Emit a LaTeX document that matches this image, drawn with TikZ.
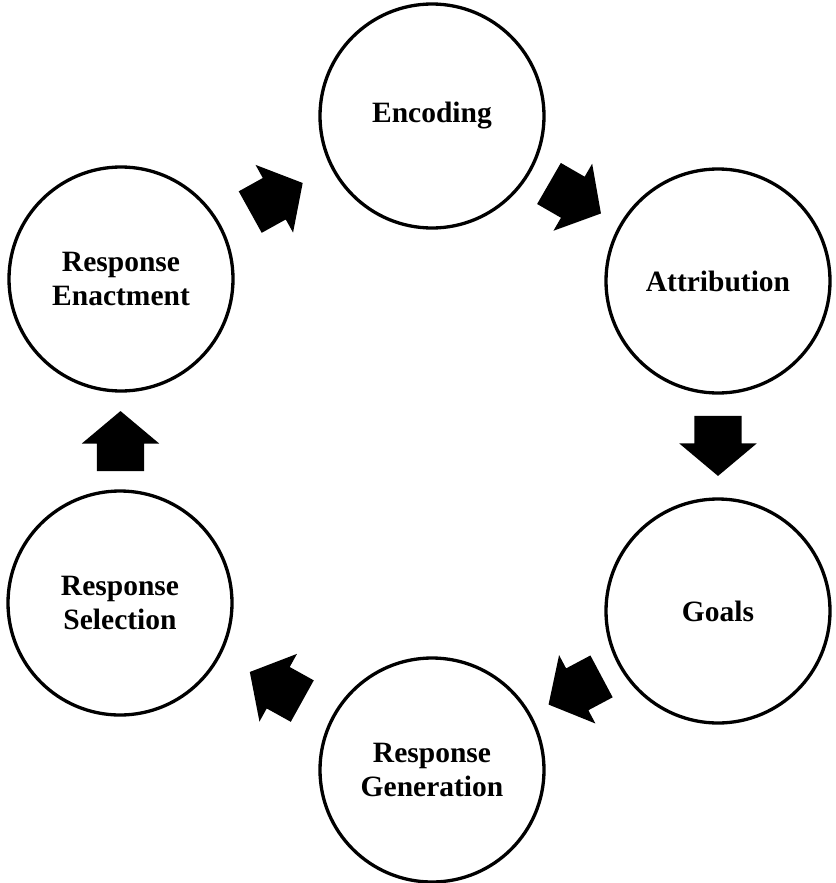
\documentclass[tikz,border=0pt]{standalone}
\usepackage{fontspec}
\setmainfont{Liberation Serif}
\usetikzlibrary{shapes.arrows,calc}

\begin{document}
\begin{tikzpicture}[x=1pt,y=-1pt,
	stage/.style={circle,draw,line width=3.3pt,minimum size=224pt,inner sep=0pt,align=center,
		font=\fontsize{29.5}{34}\selectfont\bfseries},
	flow/.style={single arrow,fill=black,draw=none,inner xsep=0pt,inner ysep=23.5pt,
		minimum height=60pt,single arrow head extend=15pt,
		single arrow tip angle=100,single arrow head indent=0pt}]
	\useasboundingbox (0,0) rectangle (835,883);
	\node[stage](enc) at (432,116){Encoding};
	\node[stage](att) at (718,281){Attribution};
	\node[stage](goa) at (718,611){Goals};
	\node[stage](gen) at (432,770){Response\\Generation};
	\node[stage](sel) at (120,603){Response\\Selection};
	\node[stage](act) at (121,279){Response\\Enactment};
	\node[flow,rotate=29,xshift=-10pt](f1) at ($(act)!0.5!(enc)$){};
	\node[flow,rotate=-30,xshift=-10pt](f2) at ($(enc)!0.5!(att)$){};
	\node[flow,rotate=-90,xshift=-10pt](f3) at ($(att)!0.5!(goa)$){};
	\node[flow,rotate=-152,xshift=-10pt](f4) at ($(goa)!0.5!(gen)$){};
	\node[flow,rotate=151,xshift=-10pt](f5) at ($(gen)!0.5!(sel)$){};
	\node[flow,rotate=90,xshift=-10pt](f6) at ($(sel)!0.5!(act)$){};
\end{tikzpicture}
\end{document}
